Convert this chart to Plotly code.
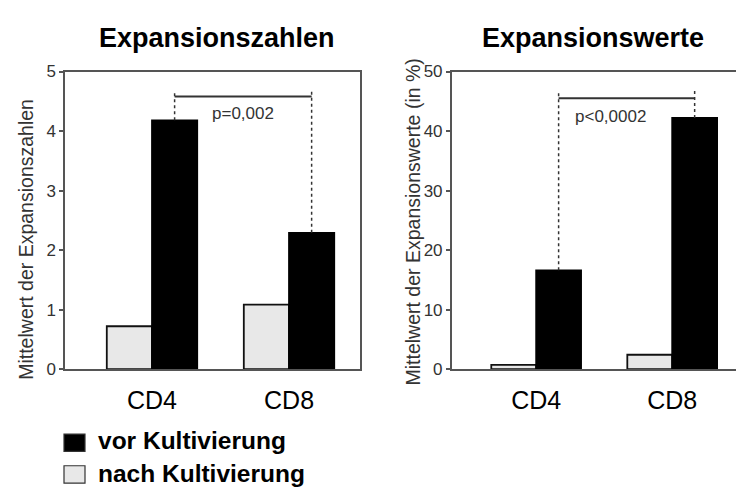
import plotly.graph_objects as go

categories = ["CD4", "CD8"]
zahlen_nach = [0.72, 1.085]
zahlen_vor = [4.18, 2.29]
werte_nach = [0.7, 2.42]
werte_vor = [16.6, 42.2]
zahlen_ticks = [0, 1, 2, 3, 4, 5]
werte_ticks = [0, 10, 20, 30, 40, 50]
p_left = "p=0,002"
p_right = "p<0,0002"
legend_labels = ["vor Kultivierung", "nach Kultivierung"]
titles = ["Expansionszahlen", "Expansionswerte"]
ytitles = ["Mittelwert der Expansionszahlen", "Mittelwert der Expansionswerte (in %)"]

FONT = "Liberation Sans, Arial, sans-serif"
W, H = 736, 495
LIGHT = "#e8e8e8"
AX = "#555555"
TXT = "#333333"
BW = 0.33

def px(x):
    return x / W

def py(y):
    return 1 - y / H

fig = go.Figure()

for xa, ya, nach, vor in [("x", "y", zahlen_nach, zahlen_vor), ("x2", "y2", werte_nach, werte_vor)]:
    fig.add_trace(go.Bar(x=categories, y=nach, xaxis=xa, yaxis=ya, offset=-BW, width=BW,
                         marker=dict(color=LIGHT, line=dict(color="#111111", width=1.8)),
                         name=legend_labels[1], showlegend=False))
    fig.add_trace(go.Bar(x=categories, y=vor, xaxis=xa, yaxis=ya, offset=0, width=BW,
                         marker=dict(color="black", line=dict(color="black", width=1.8)),
                         name=legend_labels[0], showlegend=False))

ydom = [py(374.5), py(65)]
common_y = dict(showline=True, linecolor=AX, linewidth=1.5, ticks="outside", ticklen=4,
                tickcolor=AX, tickwidth=1.5, showgrid=False, zeroline=False,
                tickfont=dict(family=FONT, size=17, color=TXT), domain=ydom)
common_x = dict(showline=True, linecolor=AX, linewidth=1.5, mirror=True, ticks="",
                showgrid=False, zeroline=False, type="category",
                tickfont=dict(family=FONT, size=25, color="black"), ticklabelstandoff=8)

fig.update_layout(
    width=W, height=H, autosize=False,
    margin=dict(l=0, r=0, t=0, b=0),
    paper_bgcolor="white", plot_bgcolor="white",
    barmode="overlay", showlegend=False,
    xaxis=dict(common_x, domain=[px(65), px(360)], range=[-0.635, 1.518]),
    yaxis=dict(common_y, range=[0, 5], tickvals=zahlen_ticks, mirror=True),
    xaxis2=dict(common_x, domain=[px(451.7), 1.0], range=[-0.621, 1.469], anchor="y2"),
    yaxis2=dict(common_y, range=[0, 50], tickvals=werte_ticks, anchor="x2"),
)

anns = []
# chart titles
for t, cx in zip(titles, [217, 593]):
    anns.append(dict(text=t, x=px(cx), y=py(30), xref="paper", yref="paper",
                     showarrow=False, xanchor="center", yanchor="middle",
                     font=dict(family=FONT, size=27, color="black", weight="bold")))
# y titles
anns.append(dict(text=ytitles[0], x=px(26), y=py(240), xref="paper", yref="paper",
                 showarrow=False, textangle=-90, xanchor="center", yanchor="middle",
                 font=dict(family=FONT, size=19.5, color=TXT)))
anns.append(dict(text=ytitles[1], x=px(413), y=py(222), xref="paper", yref="paper",
                 showarrow=False, textangle=-90, xanchor="center", yanchor="middle",
                 font=dict(family=FONT, size=19.5, color=TXT)))

shapes = []
off = BW / 2
for xr, yr, vor, ybar, ytop, ptxt, pxy in [
    ("x", "y", zahlen_vor, 4.58, 4.68, p_left, (0.664, 4.29)),
    ("x2", "y2", werte_vor, 45.5, 46.8, p_right, (0.55, 42.5)),
]:
    x0, x1 = 0 + off, 1 + off
    shapes.append(dict(type="line", xref=xr, yref=yr, x0=x0, x1=x1, y0=ybar, y1=ybar,
                       line=dict(color=TXT, width=2)))
    for xi, v in [(x0, vor[0]), (x1, vor[1])]:
        shapes.append(dict(type="line", xref=xr, yref=yr, x0=xi, x1=xi, y0=v, y1=ytop,
                           line=dict(color=TXT, width=1.5, dash="dot")))
    anns.append(dict(text=ptxt, x=pxy[0], y=pxy[1], xref=xr, yref=yr, showarrow=False,
                     xanchor="center", yanchor="middle",
                     font=dict(family=FONT, size=17, color=TXT)))

# custom legend
for i, (lab, col) in enumerate(zip(legend_labels, ["black", LIGHT])):
    top = 442 + 33 * i
    shapes.append(dict(type="rect", xref="paper", yref="paper",
                       x0=px(64), x1=px(85), y0=py(top), y1=py(top + 18),
                       fillcolor=col, line=dict(color="#333333", width=1.2)))
    anns.append(dict(text=lab, x=px(96), y=py(top + 7 + i), xref="paper", yref="paper",
                     showarrow=False, xanchor="left", yanchor="middle",
                     font=dict(family=FONT, size=24.5, color="black", weight="bold")))

fig.update_layout(annotations=anns, shapes=shapes)
fig.write_html("out.html")
